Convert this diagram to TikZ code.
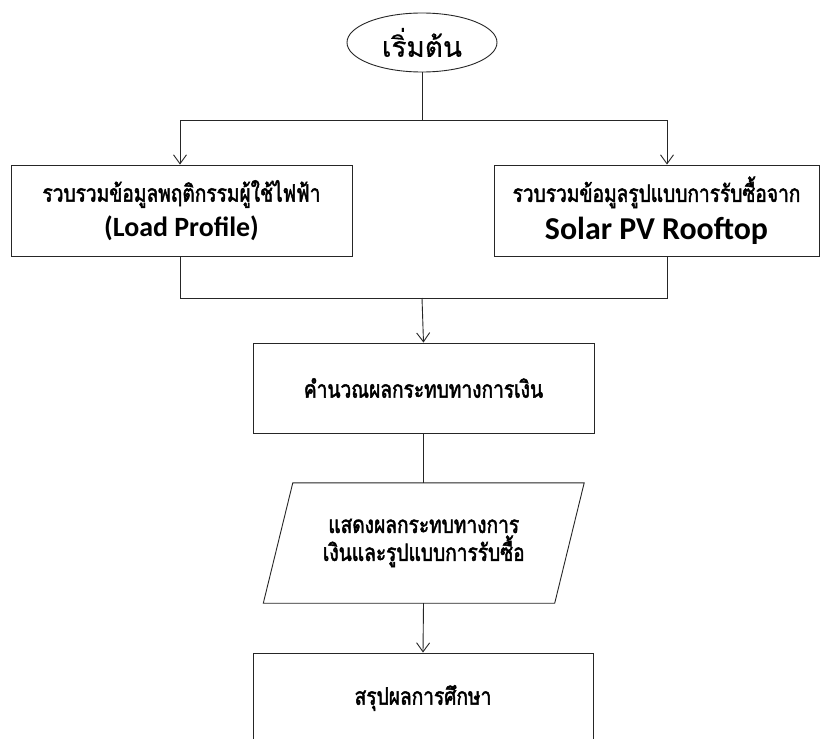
\documentclass[tikz,border=0pt]{standalone}
\usepackage{fontspec}
\usetikzlibrary{arrows.meta,shapes.geometric,calc}
\newfontfamily\thaireg[Script=Thai,FakeBold=0.6]{Loma}
\newfontfamily\thaibold[Script=Thai,FakeBold=2,FakeStretch=0.8]{Loma}
\newfontfamily\latb{Carlito}
\tikzset{
  flowline/.style={line width=0.9bp, draw=black!85},
  flowarrow/.style={flowline, -{Straight Barb[length=9bp,width=13bp,line width=0.9bp]}},
  procbox/.style={draw=black!85, line width=0.9bp, rectangle, inner sep=0pt, align=center, fill=white},
  thaitext/.style={font=\thaibold\fontsize{24}{26}\selectfont},
}
\begin{document}
\begin{tikzpicture}[x=1bp,y=-1bp]
\useasboundingbox (0,0) rectangle (823,739);
\clip (0,0) rectangle (823,739);
\fill[white] (0,0) rectangle (823,739);

\node[ellipse, draw=black!85, line width=0.9bp, minimum width=150bp, minimum height=59bp, inner sep=0pt,
      font=\thaireg\fontsize{28}{30}\selectfont] (start) at (422,42.5) {เริ่มต้น};

\node[procbox, minimum width=341bp, minimum height=91bp] (left) at (181.5,210.5)
  {{\thaibold\fontsize{24}{30}\selectfont รวบรวมข้อมูลพฤติกรรมผู้ใช้ไฟฟ้า}\\[7bp]
   {\latb\bfseries\fontsize{28}{30}\selectfont (Load Profile)}};

\node[procbox, minimum width=325bp, minimum height=91bp] (right) at (656.5,210.5)
  {{\thaibold\fontsize{24}{30}\selectfont รวบรวมข้อมูลรูปแบบการรับซื้อจาก}\\[8bp]
   {\latb\bfseries\fontsize{32}{32}\selectfont Solar PV Rooftop}};

\node[procbox, minimum width=341bp, minimum height=90bp, thaitext] (calc) at (423.5,388)
  {คำนวณผลกระทบทางการเงิน};

\node[inner sep=0pt, minimum width=291bp, minimum height=120bp, align=center, thaitext] (para) at (423.75,543)
  {แสดงผลกระทบทางการ\\[2bp]เงินและรูปแบบการรับซื้อ};
\draw[flowline] ($(para.north west)+(14.75,0)$) -- ($(para.north east)+(14.75,0)$)
  -- ($(para.south east)+(-14.75,0)$) -- ($(para.south west)+(-14.75,0)$) -- cycle;

\node[procbox, minimum width=340bp, minimum height=90bp, thaitext] (concl) at (423,698)
  {สรุปผลการศึกษา};

\coordinate (jtop) at (422,120);
\coordinate (jtl) at (180,120);
\coordinate (jtr) at (667,120);
\coordinate (jbot) at (422,298);
\coordinate (jbl) at (180,298);
\coordinate (jbr) at (667,298);

\draw[flowline] (start.south) -- (jtop);
\draw[flowline] (jtl) -- (jtr);
\draw[flowarrow] (jtl) -- (jtl |- left.north);
\draw[flowarrow] (jtr) -- (jtr |- right.north);
\draw[flowline] (jtl |- left.south) -- (jbl) -- (jbr) -- (jtr |- right.south);
\draw[flowarrow] (jbot) -- (calc.north);
\draw[flowline] (calc.south) -- (calc.south |- para.north);
\draw[flowarrow] (calc.south |- para.south) -- (concl.north);
\end{tikzpicture}
\end{document}
